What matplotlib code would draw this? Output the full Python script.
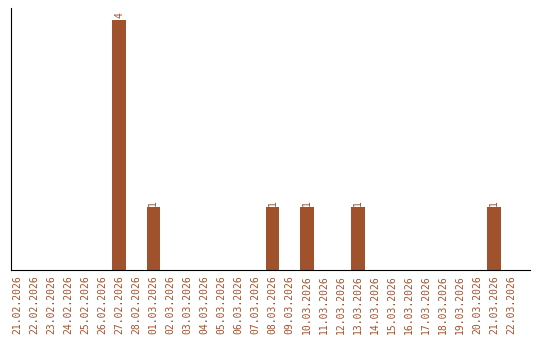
import matplotlib
matplotlib.use("Agg")
import matplotlib.pyplot as plt
import numpy as np

# dados: contagem por dia
datas = [
    "21.02.2026", "22.02.2026", "23.02.2026", "24.02.2026", "25.02.2026",
    "26.02.2026", "27.02.2026", "28.02.2026", "01.03.2026", "02.03.2026",
    "03.03.2026", "04.03.2026", "05.03.2026", "06.03.2026", "07.03.2026",
    "08.03.2026", "09.03.2026", "10.03.2026", "11.03.2026", "12.03.2026",
    "13.03.2026", "14.03.2026", "15.03.2026", "16.03.2026", "17.03.2026",
    "18.03.2026", "19.03.2026", "20.03.2026", "21.03.2026", "22.03.2026",
]
valores = [0, 0, 0, 0, 0, 0, 4, 0, 1, 0,
           0, 0, 0, 0, 0, 1, 0, 1, 0, 0,
           1, 0, 0, 0, 0, 0, 0, 0, 1, 0]

cor = "#A0522D"

fig = plt.figure(figsize=(5.4, 3.4), dpi=100)
ax = fig.add_axes([11 / 540, 70 / 340, 519 / 540, 262 / 340])

x = np.arange(len(datas))
ax.bar(x, valores, width=0.8, color=cor)

for xi, v in zip(x, valores):
    if v > 0:
        ax.text(xi, v + 0.03, str(v), rotation=90, ha="center", va="bottom",
                fontsize=7, color=cor, family="DejaVu Sans Mono")

ax.set_xticks(x)
ax.set_xticklabels(datas, rotation=90, fontsize=7, color=cor, family="DejaVu Sans Mono")
ax.tick_params(axis="x", length=0, pad=4)
ax.set_yticks([])
ax.set_xlim(-0.35, len(datas) - 1 + 1.1)
ax.set_ylim(0, 4.19)
ax.spines["top"].set_visible(False)
ax.spines["right"].set_visible(False)

fig.savefig("out.png", dpi=100)
